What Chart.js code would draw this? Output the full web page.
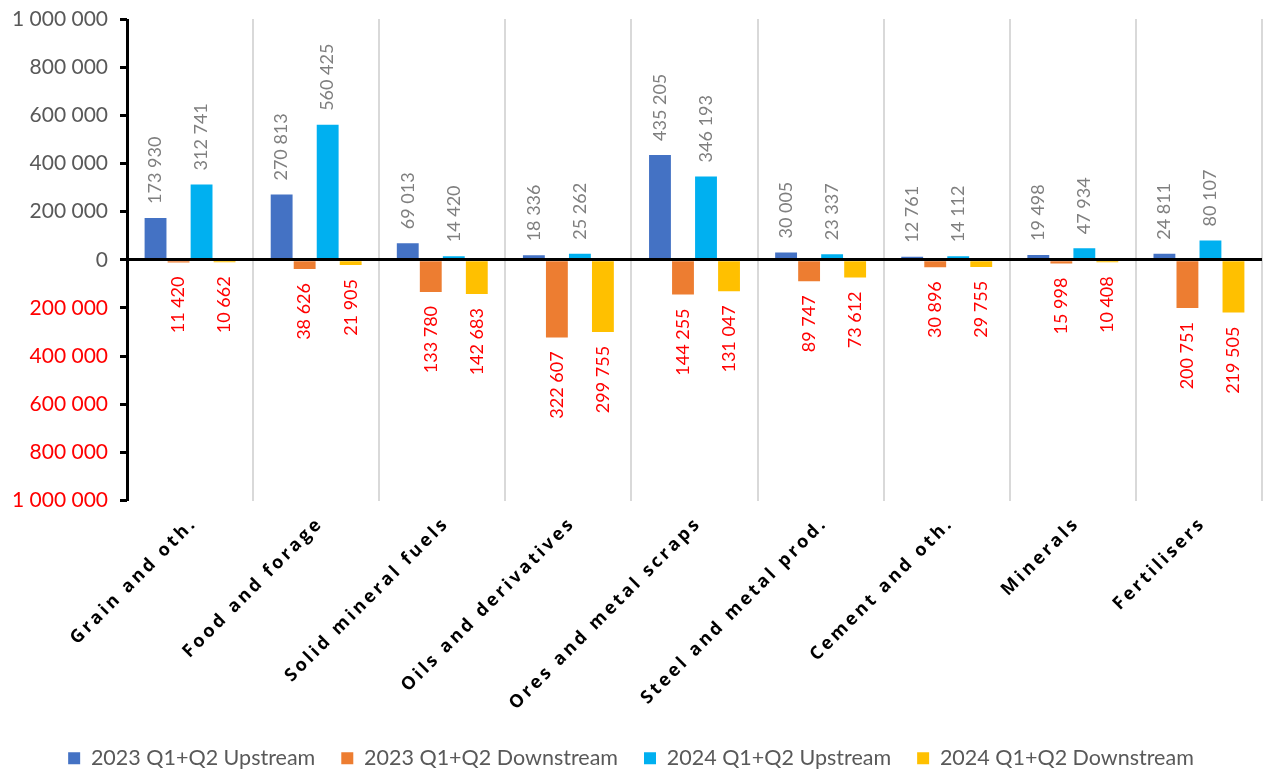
<!DOCTYPE html>
<html lang="en">
<head>
    <meta charset="UTF-8">
    <title>Upstream / Downstream</title>
    <script src="https://cdn.jsdelivr.net/npm/chart.js"></script>
    <style>
        body { margin: 0; background: #fff; }
        #wrap { width: 1267px; height: 773px; }
    </style>
</head>
<body>
    <div id="wrap"><canvas id="chart" width="1267" height="773"></canvas></div>

    <script>
        // categories and series
        const categories = ["Grain and oth.", "Food and forage", "Solid mineral fuels", "Oils and derivatives",
            "Ores and metal scraps", "Steel and metal prod.", "Cement and oth.", "Minerals", "Fertilisers"];
        const up2023 = [173930, 270813, 69013, 18336, 435205, 30005, 12761, 19498, 24811];
        const down2023 = [-11420, -38626, -133780, -322607, -144255, -89747, -30896, -15998, -200751];
        const up2024 = [312741, 560425, 14420, 25262, 346193, 23337, 14112, 47934, 80107];
        const down2024 = [-10662, -21905, -142683, -299755, -131047, -73612, -29755, -10408, -219505];
        const seriesNames = ["2023 Q1+Q2 Upstream", "2023 Q1+Q2 Downstream", "2024 Q1+Q2 Upstream", "2024 Q1+Q2 Downstream"];
        const seriesColors = ["#4472C4", "#ED7D31", "#00B0F0", "#FFC000"];

        const fmt = v => Math.abs(v).toString().replace(/\B(?=(\d{3})+(?!\d))/g, " ");

        // value labels on bars, rotated
        const barLabels = {
            id: "barLabels",
            afterDatasetsDraw(chart) {
                const ctx = chart.ctx;
                ctx.save();
                ctx.font = "18px Lato";
                chart.data.datasets.forEach((ds, i) => {
                    const meta = chart.getDatasetMeta(i);
                    meta.data.forEach((bar, j) => {
                        const v = ds.data[j];
                        ctx.save();
                        if (v >= 0) {
                            ctx.translate(bar.x, bar.y - 14);
                            ctx.rotate(-Math.PI / 2);
                            ctx.textAlign = "left";
                            ctx.fillStyle = "#7f7f7f";
                        } else {
                            ctx.translate(bar.x, bar.y + 14);
                            ctx.rotate(-Math.PI / 2);
                            ctx.textAlign = "right";
                            ctx.fillStyle = "#ff0000";
                        }
                        ctx.textBaseline = "middle";
                        ctx.fillText(fmt(v), 0, 0);
                        ctx.restore();
                    });
                });
                ctx.restore();
            }
        };

        // slanted, spaced-out category labels
        const catLabels = {
            id: "catLabels",
            afterDraw(chart) {
                const ctx = chart.ctx;
                const xs = chart.scales.x;
                const bottom = chart.chartArea.bottom;
                ctx.save();
                ctx.font = "bold 18px 'Open Sans'";
                ctx.letterSpacing = "3px";
                ctx.fillStyle = "#000";
                ctx.textAlign = "right";
                ctx.textBaseline = "middle";
                categories.forEach((c, i) => {
                    ctx.save();
                    ctx.translate(xs.getPixelForTick(i) + 4, bottom + 20);
                    ctx.rotate(-Math.PI / 4);
                    ctx.fillText(c, 0, 0);
                    ctx.restore();
                });
                ctx.restore();
            }
        };

        new Chart(document.getElementById("chart"), {
            type: "bar",
            data: {
                labels: categories,
                datasets: [up2023, down2023, up2024, down2024].map((d, i) => ({
                    label: seriesNames[i],
                    data: d,
                    backgroundColor: seriesColors[i],
                    barPercentage: 0.95,
                    categoryPercentage: 0.73
                }))
            },
            options: {
                responsive: false,
                animation: false,
                layout: { padding: { top: 19, right: 5, left: 0, bottom: -6 } },
                plugins: {
                    tooltip: { enabled: false },
                    legend: {
                        position: "bottom",
                        labels: {
                            boxWidth: 12,
                            boxHeight: 12,
                            padding: 26,
                            color: "#595959",
                            font: { family: "Lato", size: 21.5 }
                        }
                    }
                },
                scales: {
                    x: {
                        // first grid line doubles as the y axis line
                        grid: {
                            color: c => c.index === 0 ? "#000" : "#d9d9d9",
                            lineWidth: c => c.index === 0 ? 3 : 2,
                            drawTicks: false
                        },
                        border: { display: false },
                        ticks: { display: false },
                        afterFit: s => { s.height = 221; }
                    },
                    y: {
                        min: -1000000,
                        max: 1000000,
                        ticks: {
                            stepSize: 200000,
                            padding: 12,
                            font: { family: "Lato", size: 21 },
                            color: c => c.tick.value < 0 ? "#ff0000" : "#595959",
                            callback: v => fmt(v)
                        },
                        grid: {
                            z: 1,
                            color: c => c.tick && c.tick.value === 0 ? "#000" : "rgba(0,0,0,0)",
                            lineWidth: 3,
                            tickColor: "#000",
                            tickWidth: 3,
                            tickLength: 7
                        },
                        border: { display: false },
                        afterFit: s => { s.width = 127; s.paddingTop = 0; s.paddingBottom = 0; }
                    }
                }
            },
            plugins: [barLabels, catLabels]
        });
    </script>
</body>
</html>
